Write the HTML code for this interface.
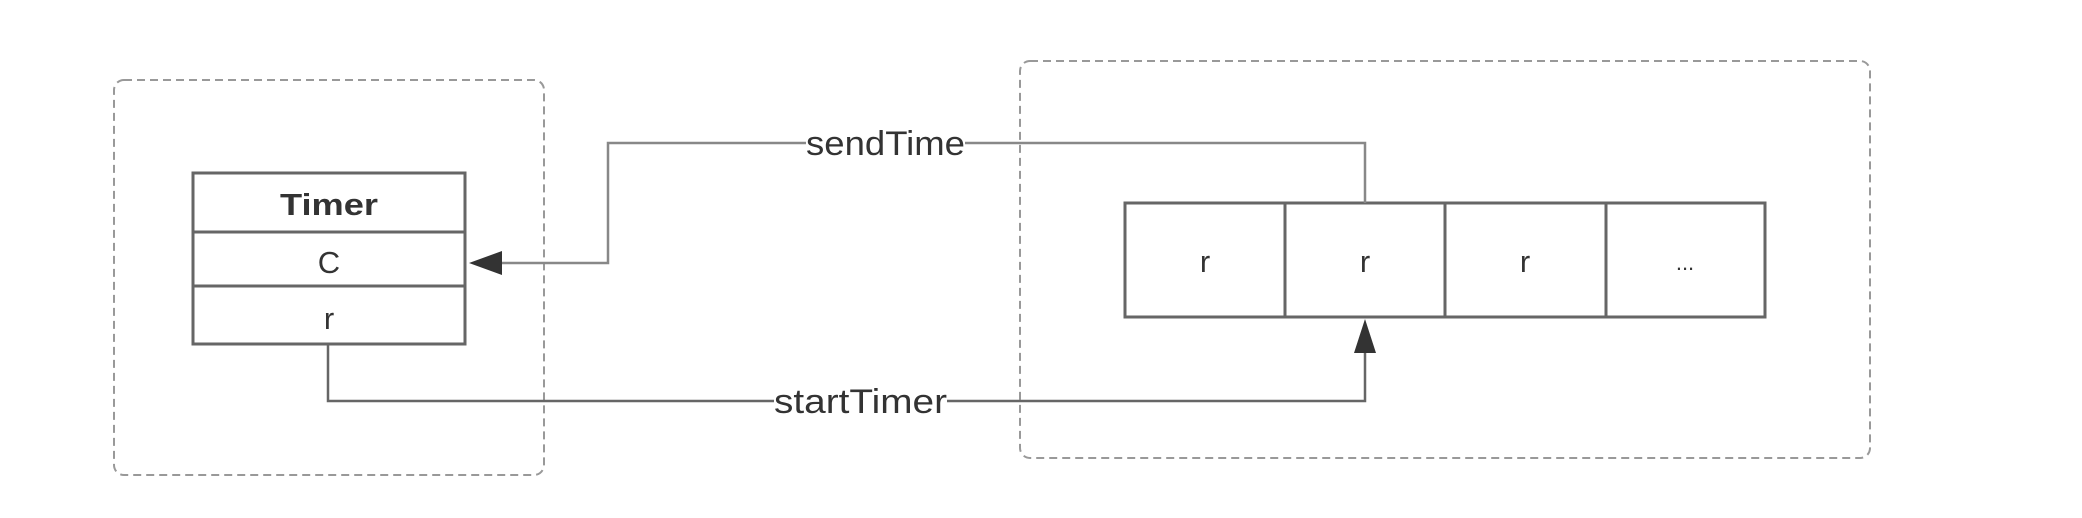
<!DOCTYPE html>
<html><head><meta charset="utf-8"><style>
html,body{margin:0;padding:0;background:#fff;width:2082px;height:518px;overflow:hidden}
svg{display:block}
text{font-family:"Liberation Sans",sans-serif;fill:#333}
</style></head><body>
<svg width="2082" height="518" viewBox="0 0 2082 518">
<rect x="114" y="80" width="430" height="395" rx="10" fill="none" stroke="#999" stroke-width="2" stroke-dasharray="8 5"/>
<rect x="1020" y="61" width="850" height="397" rx="10" fill="none" stroke="#999" stroke-width="2" stroke-dasharray="8 5"/>
<g stroke="#666" stroke-width="3" fill="#fff">
<rect x="193" y="173" width="272" height="171"/>
<line x1="193" y1="232" x2="465" y2="232"/>
<line x1="193" y1="286" x2="465" y2="286"/>
</g>
<text x="329" y="215" text-anchor="middle" font-size="31" font-weight="bold" textLength="98" lengthAdjust="spacingAndGlyphs">Timer</text>
<text x="329" y="273" text-anchor="middle" font-size="31">C</text>
<text x="329" y="329" text-anchor="middle" font-size="31">r</text>
<g stroke="#666" stroke-width="3" fill="#fff">
<rect x="1125" y="203" width="640" height="114"/>
<line x1="1285" y1="203" x2="1285" y2="317"/>
<line x1="1445" y1="203" x2="1445" y2="317"/>
<line x1="1606" y1="203" x2="1606" y2="317"/>
</g>
<text x="1205" y="272" text-anchor="middle" font-size="31">r</text>
<text x="1365" y="272" text-anchor="middle" font-size="31">r</text>
<text x="1525" y="272" text-anchor="middle" font-size="31">r</text>
<text x="1685" y="270" text-anchor="middle" font-size="22">...</text>
<polyline points="1365,203 1365,143 608,143 608,263 490,263" fill="none" stroke="#888" stroke-width="2.5"/>
<polygon points="469,263 502,251 502,275" fill="#333"/>
<rect x="806" y="124" width="159" height="38" fill="#fff"/>
<text x="806" y="155" font-size="34" textLength="159" lengthAdjust="spacingAndGlyphs">sendTime</text>
<polyline points="328,344 328,401 1365,401 1365,345" fill="none" stroke="#666" stroke-width="2.5"/>
<polygon points="1365,319 1354,353 1376,353" fill="#333"/>
<rect x="774" y="382" width="173" height="38" fill="#fff"/>
<text x="774" y="413" font-size="34" textLength="173" lengthAdjust="spacingAndGlyphs">startTimer</text>
</svg>
</body></html>
